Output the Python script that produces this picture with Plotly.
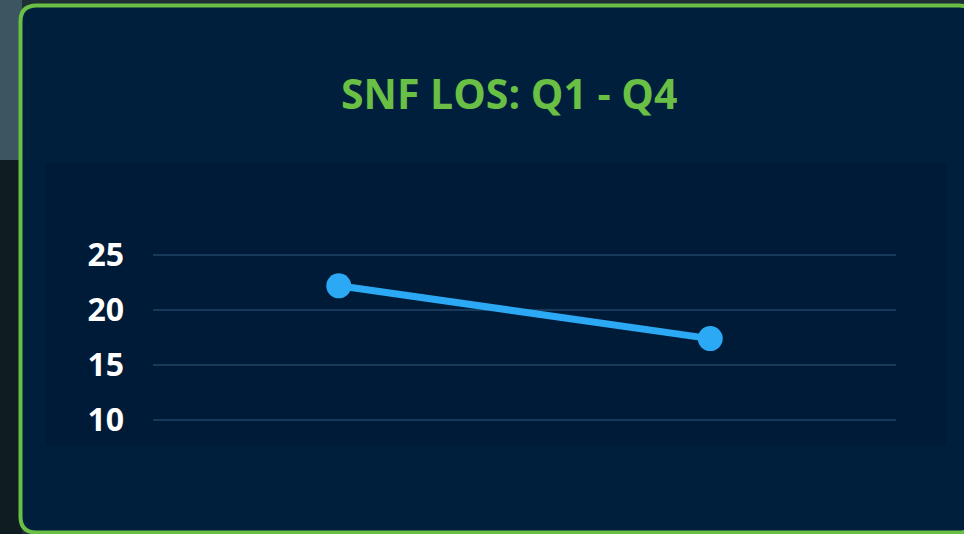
import plotly.graph_objects as go

# Data
quarters = ["Q1", "Q4"]
los_values = [22.2, 17.4]
y_ticks = [10, 15, 20, 25]
title_text = "SNF LOS: Q1 - Q4"

W, H = 964, 534
L, R, T, B = 153, 68, 233, 92
PW, PH = W - L - R, H - T - B


def px(x):
    return (x - L) / PW


def py(y):
    return (H - B - y) / PH


def rounded_path(x0, y0, x1, y1, r):
    rx, ry = r / PW, r / PH
    X0, X1 = px(x0), px(x1)
    Y0, Y1 = py(y0), py(y1)  # Y0 top (larger), Y1 bottom
    return (
        f"M {X0+rx},{Y0} L {X1-rx},{Y0} Q {X1},{Y0} {X1},{Y0-ry} "
        f"L {X1},{Y1+ry} Q {X1},{Y1} {X1-rx},{Y1} "
        f"L {X0+rx},{Y1} Q {X0},{Y1} {X0},{Y1+ry} "
        f"L {X0},{Y0-ry} Q {X0},{Y0} {X0+rx},{Y0} Z"
    )


fig = go.Figure()
fig.add_trace(
    go.Scatter(
        x=quarters,
        y=los_values,
        mode="lines+markers",
        line=dict(color="#2ca9f4", width=7),
        marker=dict(color="#2ca9f4", size=25),
        hoverinfo="x+y",
    )
)

shapes = [
    # background left strip (outer page)
    dict(type="rect", xref="paper", yref="paper", x0=px(0), x1=px(22), y0=py(0), y1=py(160),
         fillcolor="#3b5660", line=dict(width=0), layer="below"),
    dict(type="rect", xref="paper", yref="paper", x0=px(0), x1=px(22), y0=py(160), y1=py(534),
         fillcolor="#0f1c22", line=dict(width=0), layer="below"),
    # panel
    dict(type="path", xref="paper", yref="paper", path=rounded_path(20.5, 5.5, 975, 532.5, 16),
         fillcolor="#001f3c", line=dict(color="#6abf45", width=4), layer="below"),
    # inner chart area
    dict(type="rect", xref="paper", yref="paper", x0=px(45), x1=px(947), y0=py(163), y1=py(446),
         fillcolor="#001b37", line=dict(width=0), layer="below"),
]

fig.update_layout(
    width=W,
    height=H,
    margin=dict(l=L, r=R, t=T, b=B, pad=0),
    paper_bgcolor="#1e2f36",
    plot_bgcolor="rgba(0,0,0,0)",
    showlegend=False,
    shapes=shapes,
    annotations=[
        dict(text=f"<b>{title_text}</b>", xref="paper", yref="paper", x=px(509), y=py(93),
             xanchor="center", yanchor="middle", showarrow=False,
             font=dict(family="Open Sans", size=41, color="#6abf45")),
    ],
    xaxis=dict(range=[-0.5, 1.5], showgrid=False, zeroline=False, showline=False,
               showticklabels=False, fixedrange=True),
    yaxis=dict(range=[8, 27], tickvals=y_ticks, ticktext=[f"<b>{v}</b>" for v in y_ticks],
               showgrid=True, gridcolor="#17395a", gridwidth=2, zeroline=False, showline=False,
               tickfont=dict(family="Open Sans", size=32, color="#ffffff"),
               ticklabelstandoff=28, fixedrange=True),
)

fig.write_html("out.html")
